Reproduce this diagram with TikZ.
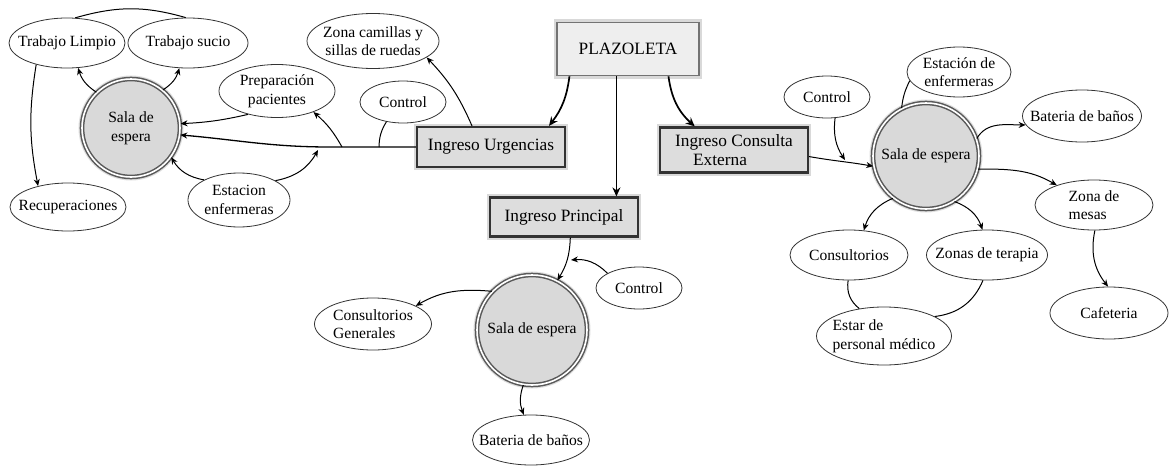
\documentclass[tikz,border=0pt]{standalone}
\usepackage{fontspec}
\setmainfont{Liberation Serif}
\usetikzlibrary{arrows.meta,shapes.geometric,calc}
\newcommand\elfont{\fontsize{15.6}{18.5}\selectfont}
\newcommand\bxfont{\fontsize{17.3}{19.5}\selectfont}
\tikzset{
  ell/.style 2 args={ellipse, draw=black!80, line width=0.8pt, fill=white, inner sep=0pt,
    minimum width=#1pt, minimum height=#2pt},
  lt/.style={font=\elfont, align=center, inner sep=0pt, text=black},
  sala/.style={circle, draw=black!65, double=white, double distance=1.6pt, line width=1.5pt,
    fill=gray!30, minimum size=#1pt, inner sep=0pt, align=center, font=\elfont, text=black,
    preaction={draw=gray!25, line width=7pt}},
  ingbox/.style 2 args={rectangle, draw=black!80, line width=2.2pt, fill=gray!27,
    minimum width=#1pt, minimum height=#2pt, inner sep=0pt, font=\bxfont, text=black,
    preaction={draw=gray!30, line width=6.5pt}},
  plzbox/.style={ingbox={142}{53}, draw=black!55, line width=1.6pt, fill=gray!13},
  con/.style={line width=1pt, black},
  arr/.style={con, -{Stealth[length=7pt,width=6pt]}},
  bigarr/.style={line width=1.7pt, black, -{Stealth[length=9pt,width=8pt]}},
}
\begin{document}
\begin{tikzpicture}[x=1pt,y=1pt]
\fill[white] (0,0) rectangle (1171,-466);
\useasboundingbox (0,0) rectangle (1171,-466);

% ---------- left cluster ----------
\node[ell={116}{50}, label={[lt]center:Trabajo Limpio}] (tl) at (67,-43) {};
\node[ell={120}{50}, label={[lt]center:Trabajo sucio}] (ts) at (188,-43) {};
\node[sala=98] (sl) at (131,-128) {Sala de\\espera};
\node[ell={116}{48}, label={[lt]center:Recuperaciones}] (rec) at (68,-207) {};
\node[ell={102}{54}, label={[lt]center:{Estacion\\enfermeras}}] (est) at (239,-200) {};
\node[ell={116}{53}, label={[lt]center:{Preparación\\pacientes}}] (prep) at (277,-91) {};
\node[ell={86}{42}, label={[lt]center:Control}] (ctla) at (403,-102) {};
\node[ell={132}{55}, label={[lt]center:{Zona camillas y\\sillas de ruedas}}] (zc) at (373,-41) {};

% ---------- boxes ----------
\node[plzbox] (plz) at (628,-49) {PLAZOLETA};
\node[ingbox={148}{40}] (iu) at (491,-147) {Ingreso Urgencias};
\node[ingbox={148}{45}, align=left] (icx) at (734,-150) {Ingreso Consulta\\\hspace*{18pt}Externa};
\node[ingbox={148}{39}] (ip) at (564,-217) {Ingreso Principal};

% ---------- middle cluster ----------
\node[sala=110] (sm) at (532,-330) {Sala de espera};
\node[ell={86}{42}, label={[lt]center:Control}] (ctlb) at (639,-288) {};
\node[ell={117}{52}, label={[lt, align=left]center:{Consultorios\\Generales}}] (cg) at (373,-324) {};
\node[ell={117}{50}, label={[lt]center:Bateria de baños}] (bbb) at (531,-440) {};

% ---------- right cluster ----------
\node[sala=106] (sr) at (926,-156) {Sala de espera};
\node[ell={86}{42}, label={[lt]center:Control}] (ctlc) at (827,-97) {};
\node[ell={104}{50}, label={[lt]center:{Estación de\\enfermeras}}] (ee) at (959,-72) {};
\node[ell={119}{52}, label={[lt]center:Bateria de baños}] (bba) at (1082,-116) {};
\node[ell={118}{50}, label={[lt, align=left]center:{Zona de\\mesas}}] (zm) at (1094,-205) {};
\node[ell={118}{52}, label={[lt]center:Cafeteria}] (caf) at (1109,-313) {};
\node[ell={118}{50}, label={[lt]center:Consultorios}] (cons) at (849,-255) {};
\node[ell={121}{50}, label={[lt]center:Zonas de terapia}] (zt) at (987,-255) {};
\node[ell={135}{58}, label={[lt, align=left]center:{Estar de\\personal médico}}] (epm) at (884,-336) {};

% ---------- connectors: left ----------
\draw[arr] (sl.134) to[bend left=20] (tl.-66);
\draw[arr] (sl.50) to[bend right=20] (ts.-109);
\draw[con] (tl.72) to[out=16,in=164] (ts.95);
\draw[arr] (tl.-145) to[bend right=10] (rec.145);
\draw[arr] (est.150) to[bend left=25] (sl.-36);
\coordinate (ue) at (318,-150);
\draw[arr] (est.28) to[bend right=25] (ue);
\coordinate (j1) at (330,-147);
\coordinate (j2) at (379,-147);
\coordinate (j3) at (342,-147);
\draw[arr, line width=1.3pt] (iu.west) -- (j1) to[out=180,in=-5] (sl.-8);
\draw[con] (j2) to[bend left=15] (ctla.-130);
\draw[arr] (j3) to[bend right=10] (prep.-30);
\draw[arr] (prep.-141) to[bend left=5] (sl.5);
\draw[arr] (iu.132) to[bend right=10] (zc.-17);

% ---------- connectors: plazoleta ----------
\draw[bigarr] (plz.-155) to[bend left=15] (iu.20);
\draw[bigarr] (plz.247.5) -- (plz.247.5 |- ip.north);
\draw[bigarr] (plz.-34) to[bend right=20] (icx.149);

% ---------- connectors: right ----------
\draw[arr] (icx.-5) to[out=-10,in=170] (sr.191);
\coordinate (ce) at (845,-160);
\draw[arr] (ctlc.-69) to[bend right=20] (ce);
\draw[con] (sr.117) to[bend left=10] (ee.-170);
\draw[arr] (sr.19) to[out=60,in=180] (bba.189);
\draw[arr] (sr.-14) to[out=0,in=150] (zm.152);
\draw[arr] (zm.-88) to[bend right=25] (caf.92);
\draw[arr] (sr.232) to[bend right=25] (cons.59);
\draw[arr] (sr.-58) to[bend left=25] (zt.100);
\draw[con] (cons.-92) to[bend right=30] (epm.132);
\draw[con] (zt.-99) to[bend left=30] (epm.21);

% ---------- connectors: middle ----------
\draw[arr] (ip.-73) to[bend left=15] (sm.63);
\coordinate (ce2) at (571,-260);
\draw[arr] (ctlb.155) to[bend right=25] (ce2);
\draw[arr] (sm.136) to[out=175,in=30] (cg.23);
\draw[arr] (sm.-99) to[bend right=20] (bbb.106);
\end{tikzpicture}
\end{document}
